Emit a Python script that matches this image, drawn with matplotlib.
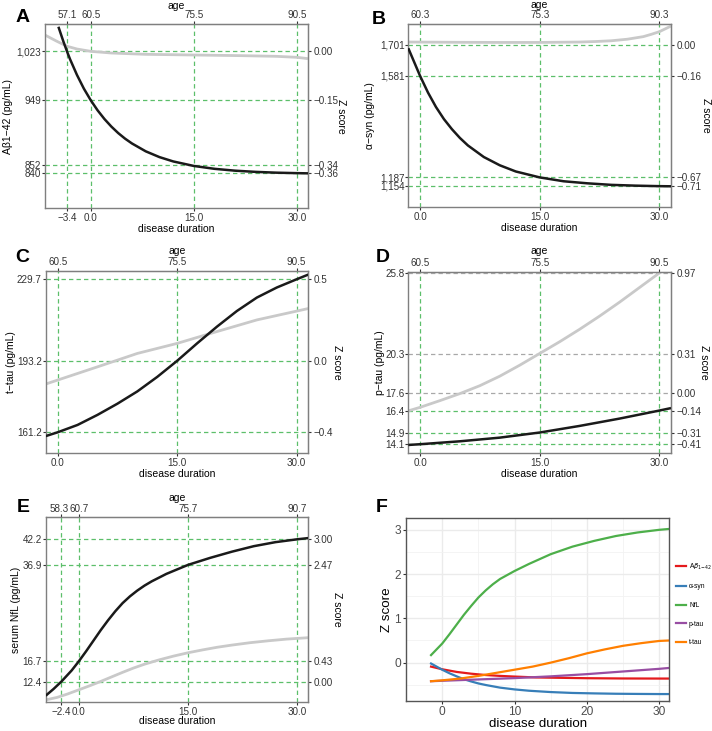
import matplotlib
matplotlib.use("Agg")
import matplotlib.pyplot as plt
from matplotlib.lines import Line2D

plt.rcParams['font.family'] = ['Liberation Sans', 'DejaVu Sans']
plt.rcParams['axes.unicode_minus'] = True

# ---------------- data ----------------
# Panel A: Abeta1-42
A_t = [-4.7, -4, -3.4, -3, -2, -1, 0, 1, 2, 3, 4, 5, 6, 8, 10, 12, 15, 18, 21, 24, 27, 30, 31.6]
A_val = [1059.5, 1038, 1021, 1010.5, 987, 966.5, 949, 933.8, 920.7, 909.4, 899.6, 891.2, 884,
         872.2, 863.5, 857, 850.2, 845.9, 843.1, 841.3, 840.1, 839.4, 839.1]
A_gt = [-6.65, -5, -3.4, -2, 0, 3, 8, 15, 22, 27, 30, 31.6]
A_gv = [1047, 1038, 1030, 1026, 1022.5, 1020, 1018, 1017, 1016, 1015, 1013.5, 1011.5]
A_xticks = [-3.4, 0, 15, 30]
A_xlabels = ['−3.4', '0.0', '15.0', '30.0']
A_age = ['57.1', '60.5', '75.5', '90.5']
A_yticks = [1023, 949, 852, 840]
A_ylabels = ['1,023', '949', '852', '840']
A_zlabels = ['0.00', '−0.15', '−0.34', '−0.36']

# Panel B: alpha-syn
B_t = [-1.47, 0, 1, 2, 3, 4, 5, 6, 8, 10, 12, 15, 18, 21, 24, 27, 30, 31.47]
B_val = [1688, 1581, 1516, 1460, 1413, 1374, 1340, 1311, 1266, 1234, 1210, 1187, 1172, 1164,
         1158, 1155, 1153, 1152.5]
B_gt = [-1.47, 5, 10, 15, 20, 22, 24, 26, 28, 29, 30, 31.47]
B_gv = [1712, 1711, 1710.5, 1710.5, 1712, 1714, 1717, 1723, 1733, 1742, 1752, 1774]
B_xticks = [0, 15, 30]
B_xlabels = ['0.0', '15.0', '30.0']
B_age = ['60.3', '75.3', '90.3']
B_yticks = [1701, 1581, 1187, 1154]
B_ylabels = ['1,701', '1,581', '1,187', '1,154']
B_zlabels = ['0.00', '−0.16', '−0.67', '−0.71']

# Panel C: t-tau
C_t = [-1.5, 0, 2.5, 5, 7.5, 10, 12.5, 15, 17.5, 20, 22.5, 25, 27.5, 30, 31.46]
C_val = [159.5, 161.2, 164.5, 169, 174, 179.5, 186, 193.2, 201, 208.5, 215.5, 221.5, 226, 229.7, 231.8]
C_gt = [-1.5, 5, 10, 15, 20, 25, 31.46]
C_gv = [182.8, 190.5, 196.5, 201, 206.3, 211.5, 216.6]
C_xticks = [0, 15, 30]
C_xlabels = ['0.0', '15.0', '30.0']
C_age = ['60.5', '75.5', '90.5']
C_yticks = [229.7, 193.2, 161.2]
C_ylabels = ['229.7', '193.2', '161.2']
C_zlabels = ['0.5', '0.0', '−0.4']

# Panel D: p-tau
D_t = [-1.47, 0, 5, 10, 15, 20, 25, 30, 31.47]
D_val = [14.05, 14.1, 14.3, 14.55, 14.9, 15.35, 15.85, 16.4, 16.57]
D_gt = [-1.47, 0, 2.5, 5, 7.5, 10, 12.5, 15, 17.5, 20, 22.5, 25, 27.5, 30, 31.47]
D_gv = [16.38, 16.62, 17.08, 17.56, 18.1, 18.75, 19.5, 20.3, 21.1, 21.95, 22.85, 23.8, 24.8, 25.8, 26.3]
D_xticks = [0, 15, 30]
D_xlabels = ['0.0', '15.0', '30.0']
D_age = ['60.5', '75.5', '90.5']
D_yticks = [25.8, 20.3, 17.6, 16.4, 14.9, 14.1]
D_ylabels = ['25.8', '20.3', '17.6', '16.4', '14.9', '14.1']
D_zlabels = ['0.97', '0.31', '0.00', '−0.14', '−0.31', '−0.41']

# Panel E: serum NfL
E_t = [-4.57, -3.5, -2.4, -1, 0, 1, 2, 3, 4, 5, 6, 7, 8, 9, 10, 12, 15, 18, 21, 24, 27, 30, 31.5]
E_val = [9.46, 10.85, 12.44, 14.75, 16.7, 18.8, 21.0, 23.2, 25.25, 27.15, 28.85, 30.25, 31.45,
         32.5, 33.4, 34.95, 36.85, 38.3, 39.6, 40.75, 41.6, 42.2, 42.45]
E_gt = [-4.57, -3, -1.5, 0, 1.5, 3, 4.5, 6, 7.5, 9, 11, 13, 15, 17, 19, 21, 23.5, 26, 28.5, 31.5]
E_gv = [8.57, 9.1, 9.85, 10.7, 11.55, 12.45, 13.4, 14.35, 15.25, 16.05, 16.95, 17.75, 18.45,
        19.05, 19.6, 20.05, 20.55, 20.95, 21.3, 21.6]
E_xticks = [-2.4, 0, 15, 30]
E_xlabels = ['−2.4', '0.0', '15.0', '30.0']
E_age = ['58.3', '60.7', '75.7', '90.7']
E_yticks = [42.2, 36.9, 16.7, 12.4]
E_ylabels = ['42.2', '36.9', '16.7', '12.4']
E_zlabels = ['3.00', '2.47', '0.43', '0.00']

# Panel F: Z scores
F_names = [r'A$\beta_{1\mathrm{-}42}$', 'α-syn', 'NfL', 'p-tau', 't-tau']
F_abeta_t = [-1.54, 0, 2, 4, 6, 8, 10, 13, 15, 20, 25, 30, 31.38]
F_abeta = [-0.09, -0.15, -0.21, -0.25, -0.28, -0.30, -0.315, -0.335, -0.34, -0.352, -0.358, -0.36, -0.36]
F_asyn_t = [-1.54, 0, 1, 2, 3, 4, 5, 6, 8, 10, 12, 15, 18, 21, 24, 27, 30, 31.38]
F_asyn = [-0.02, -0.16, -0.24, -0.31, -0.375, -0.425, -0.47, -0.505, -0.565, -0.605, -0.635,
          -0.665, -0.685, -0.695, -0.703, -0.707, -0.71, -0.71]
F_nfl_t = [-1.54, 0, 1, 2, 3, 4, 5, 6, 7, 8, 10, 12, 15, 18, 21, 24, 27, 30, 31.38]
F_nfl = [0.17, 0.43, 0.64, 0.86, 1.08, 1.28, 1.47, 1.63, 1.77, 1.89, 2.07, 2.23, 2.45, 2.62, 2.75,
         2.86, 2.94, 3.0, 3.02]
F_ptau_t = [-1.54, 0, 5, 10, 15, 20, 25, 30, 31.38]
F_ptau = [-0.42, -0.41, -0.38, -0.35, -0.31, -0.26, -0.20, -0.14, -0.12]
F_ttau_t = [-1.54, 0, 2.5, 5, 7.5, 10, 12.5, 15, 17.5, 20, 22.5, 25, 27.5, 30, 31.38]
F_ttau = [-0.42, -0.40, -0.36, -0.30, -0.23, -0.16, -0.09, 0.0, 0.10, 0.21, 0.30, 0.38, 0.44, 0.49, 0.50]
F_colors = ['#E41A1C', '#377EB8', '#4DAF4A', '#984EA3', '#FF7F00']

# ---------------- figure ----------------
W, H = 712, 731
fig = plt.figure(figsize=(W / 100, H / 100), dpi=100)


def px_axes(x0, y0, x1, y1):
    return fig.add_axes([x0 / W, 1 - y1 / H, (x1 - x0) / W, (y1 - y0) / H])


GREEN = '#5cbf6a'
GREYD = '#a8a8a8'
DASH = (0, (3.5, 2.5))
TICKC = '#333333'
FS = 7.1
LFS = 7.5
TF = fig.transFigure


def panel(rect, t, v, gt, gv, xlim, ylim, xticks, xlabels, ages, yticks, ylabels, zlabels,
          hcolors, ylabel, lab_px):
    x0, y0, x1, y1 = rect
    ylab_x, zlab_x, age_y, dd_y = lab_px
    ax = px_axes(*rect)
    ax.set_xlim(*xlim)
    ax.set_ylim(*ylim)
    for x in xticks:
        ax.axvline(x, color=GREEN, lw=0.9, ls=DASH, zorder=1)
    for y, c in zip(yticks, hcolors):
        ax.axhline(y, color=c, lw=0.9, ls=DASH, zorder=1)
    ax.plot(gt, gv, color='#c9c9c9', lw=2.0, zorder=2, solid_capstyle='butt')
    ax.plot(t, v, color='#1a1a1a', lw=1.8, zorder=3, solid_capstyle='butt')
    for s in ax.spines.values():
        s.set_color('#7f7f7f')
        s.set_linewidth(1.0)
    ax.set_xticks(xticks, labels=xlabels)
    ax.set_yticks(yticks, labels=ylabels)
    kw = dict(labelsize=FS, labelcolor=TICKC, color=TICKC, length=2.3, width=0.8)
    ax.tick_params(axis='x', pad=1.2, **kw)
    ax.tick_params(axis='y', pad=0.5, **kw)
    cx = ((x0 + x1) / 2) / W
    cy = 1 - ((y0 + y1) / 2) / H
    ax.set_xlabel('disease duration', fontsize=LFS, va='center', ha='center')
    ax.xaxis.set_label_coords(cx, 1 - dd_y / H, transform=TF)
    ax.set_ylabel(ylabel, fontsize=LFS, va='center', ha='center')
    ax.yaxis.set_label_coords(ylab_x / W, cy, transform=TF)
    top = ax.secondary_xaxis('top')
    top.set_xticks(xticks, labels=ages)
    top.tick_params(pad=0.3, **kw)
    top.set_xlabel('age', fontsize=LFS, va='center', ha='center')
    top.xaxis.set_label_coords(cx, 1 - age_y / H, transform=TF)
    top.spines['top'].set_color('#7f7f7f')
    right = ax.secondary_yaxis('right')
    right.set_yticks(yticks, labels=zlabels)
    right.tick_params(pad=1.6, **kw)
    right.set_ylabel('Z score', fontsize=LFS, rotation=270, va='center', ha='center')
    right.yaxis.set_label_coords(zlab_x / W, cy, transform=TF)
    right.spines['right'].set_color('#7f7f7f')
    return ax, top


def letter(x, y, s):
    fig.text(x / W, 1 - y / H, s, fontsize=14, fontweight='bold', va='center', ha='left')


panel((45, 24, 308, 208), A_t, A_val, A_gt, A_gv, (-6.65, 31.6), (787, 1063.6),
      A_xticks, A_xlabels, A_age, A_yticks, A_ylabels, A_zlabels,
      [GREEN] * 4, 'Aβ1−42 (pg/mL)', (8, 341.5, 6, 229.5))
letter(16, 17, 'A')

panel((408.3, 24, 671, 207.3), B_t, B_val, B_gt, B_gv, (-1.47, 31.47), (1071, 1782),
      B_xticks, B_xlabels, B_age, B_yticks, B_ylabels, B_zlabels,
      [GREEN] * 4, 'α−syn (pg/mL)', (370, 706, 5, 228))
letter(372, 19, 'B')

panel((45.7, 271, 308.3, 453.3), C_t, C_val, C_gt, C_gv, (-1.5, 31.46), (151.8, 233.4),
      C_xticks, C_xlabels, C_age, C_yticks, C_ylabels, C_zlabels,
      [GREEN] * 3, 't−tau (pg/mL)', (11, 337, 251, 474))
letter(15, 257, 'C')

panel((408.3, 272, 671, 453.3), D_t, D_val, D_gt, D_gv, (-1.47, 31.47), (13.48, 25.87),
      D_xticks, D_xlabels, D_age, D_yticks, D_ylabels, D_zlabels,
      [GREYD, GREYD, GREYD, GREEN, GREEN, GREEN], 'p−tau (pg/mL)', (380, 704, 251, 474))
letter(376, 257, 'D')

axE, topE = panel((45.7, 517.3, 308.3, 701.7), E_t, E_val, E_gt, E_gv, (-4.57, 31.5), (8.2, 46.8),
                  E_xticks, E_xlabels, [''] + E_age[1:], E_yticks, E_ylabels, E_zlabels,
                  [GREEN] * 4, 'serum NfL (pg/mL)', (16, 337, 498, 721))
# first age label of panel E, nudged left so it does not collide with its neighbour
axE.annotate(E_age[0], xy=(E_xticks[0], 1), xycoords=('data', 'axes fraction'),
             xytext=(-2.0, 2.6), textcoords='offset points', ha='center', va='bottom',
             fontsize=FS, color=TICKC, annotation_clip=False)
letter(17, 508, 'E')

# Panel F
axf = px_axes(406, 518.3, 669.3, 700.7)
axf.set_xlim(-1.54, 31.38)
axf.set_ylim(-0.86, 3.26)
axf.set_xticks([0, 10, 20, 30])
axf.set_yticks([0, 1, 2, 3])
axf.set_xticks([-5, 5, 15, 25], minor=True)
axf.set_yticks([-0.5, 0.5, 1.5, 2.5], minor=True)
axf.grid(which='major', color='#ebebeb', lw=1.0)
axf.grid(which='minor', color='#f2f2f2', lw=0.6)
axf.set_axisbelow(True)
series = [(F_abeta_t, F_abeta), (F_asyn_t, F_asyn), (F_nfl_t, F_nfl), (F_ptau_t, F_ptau),
          (F_ttau_t, F_ttau)]
for (tt, zz), c in zip(series, F_colors):
    axf.plot(tt, zz, color=c, lw=1.6)
for s in axf.spines.values():
    s.set_color('#555555')
    s.set_linewidth(1.0)
axf.tick_params(which='major', labelsize=8.6, labelcolor='#4d4d4d', color='#333333', length=2.5,
                width=0.8, pad=1.0)
axf.tick_params(which='minor', length=0)
axf.set_xlabel('disease duration', fontsize=9.6, va='center', ha='center')
axf.xaxis.set_label_coords((406 + 669.3) / 2 / W, 1 - 724 / H, transform=TF)
axf.set_ylabel('Z score', fontsize=9.6, va='center', ha='center')
axf.yaxis.set_label_coords(387 / W, 1 - (518.3 + 700.7) / 2 / H, transform=TF)
handles = [Line2D([], [], color=c, lw=1.6) for c in F_colors]
fig.legend(handles, F_names, loc='center left', bbox_to_anchor=(676 / W, 1 - 604 / H),
           frameon=False, fontsize=4.8, handlelength=1.45, handletextpad=0.5, labelspacing=1.75,
           borderaxespad=0, borderpad=0)
letter(376, 508, 'F')

fig.savefig('out.png', dpi=100)
